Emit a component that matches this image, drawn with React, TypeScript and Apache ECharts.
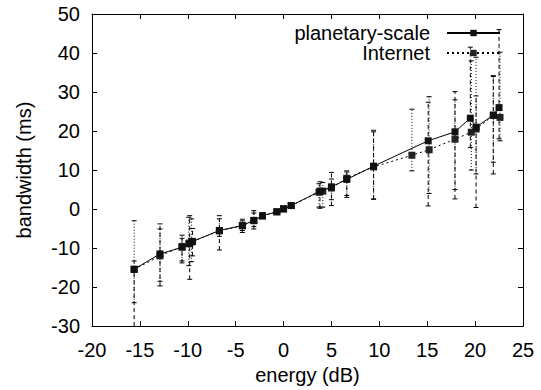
import React, { useEffect, useRef } from "react";
import * as echarts from "echarts";

const planetaryX = [-15.6, -12.9, -10.6, -9.8, -9.5, -6.7, -4.3, -3.1, -2.2, -0.7, 0.0, 0.8, 3.8, 5.0, 6.6, 9.4, 15.1, 17.9, 19.5, 20.1, 21.9, 22.5];
const planetaryY = [-15.4, -11.5, -9.8, -8.7, -8.3, -5.5, -4.2, -2.9, -1.7, -0.7, 0.1, 0.9, 4.6, 5.7, 7.6, 11.0, 17.5, 19.8, 23.3, 21.0, 24.1, 26.0];
const planetaryLow = [-35, -19.7, -13.8, -18.0, -12.0, -10.5, -6.0, -5.1, -2.4, -1.2, -0.3, 0.4, 0.2, 0.9, 3.0, 2.6, 0.8, 2.6, 15.8, 0.4, 9.0, 18.0];
const planetaryHigh = [-13.3, -3.8, -7.5, -1.7, -5.0, -1.7, -2.6, -0.4, -1.0, -0.2, 0.5, 1.4, 7.0, 9.4, 9.8, 19.8, 27.4, 30.1, 41.5, 29.0, 34.0, 46.0];

const internetX = [-15.6, -12.9, -10.6, -9.9, -9.6, -6.7, -4.3, -3.1, -2.2, -0.7, 0.0, 0.8, 3.7, 4.1, 5.0, 6.6, 9.4, 13.4, 15.2, 17.9, 19.6, 20.1, 21.9, 22.6];
const internetY = [-15.5, -12.0, -9.6, -8.9, -8.4, -5.6, -4.3, -3.0, -1.8, -0.7, 0.0, 0.9, 4.3, 4.6, 5.4, 7.9, 10.8, 13.8, 15.2, 17.9, 19.7, 20.5, 24.0, 23.5];
const internetLow = [-24, -18.5, -13.3, -14.5, -13.5, -7.0, -5.5, -4.5, -2.3, -1.1, -0.4, 0.5, 0.5, 0.5, 2.4, 3.5, 2.5, 9.8, 4.0, 5.0, 10.0, 9.0, 12.0, 17.5];
const internetHigh = [-3.0, -5.1, -6.7, -2.1, -2.5, -2.5, -3.0, -1.0, -1.2, -0.3, 0.4, 1.3, 6.5, 6.8, 7.7, 9.5, 20.2, 25.6, 28.8, 28.0, 38.0, 38.9, 34.2, 40.2];

const X_MIN = -20, X_MAX = 25, X_STEP = 5;
const Y_MIN = -30, Y_MAX = 50, Y_STEP = 10;
const FONT = "'Liberation Sans', Arial, sans-serif";

function errorRenderer(dash: number[]) {
  return (params: any, api: any) => {
    const x = api.value(0);
    const lo = api.value(1);
    const hi = api.value(2);
    const loC = Math.max(lo, Y_MIN);
    const hiC = Math.min(hi, Y_MAX);
    const p1 = api.coord([x, loC]);
    const p2 = api.coord([x, hiC]);
    const style = { stroke: "#000", lineWidth: 1, lineDash: dash, fill: null };
    const children: any[] = [
      { type: "line", shape: { x1: p1[0], y1: p1[1], x2: p2[0], y2: p2[1] }, style },
    ];
    const cap = 2.5;
    if (lo >= Y_MIN) children.push({ type: "line", shape: { x1: p1[0] - cap, y1: p1[1], x2: p1[0] + cap, y2: p1[1] }, style: { stroke: "#000", lineWidth: 1 } });
    if (hi <= Y_MAX) children.push({ type: "line", shape: { x1: p2[0] - cap, y1: p2[1], x2: p2[0] + cap, y2: p2[1] }, style: { stroke: "#000", lineWidth: 1 } });
    return { type: "group", children };
  };
}

export default function App() {
  const ref = useRef<HTMLDivElement>(null);
  useEffect(() => {
    if (!ref.current) return;
    const chart = echarts.init(ref.current, null, { renderer: "svg" });
    const axisLine = { show: true, onZero: false, lineStyle: { color: "#000", width: 1 } };
    const axisTick = { show: true, inside: true, length: 5, lineStyle: { color: "#000" } };
    chart.setOption({
      animation: false,
      backgroundColor: "#fff",
      textStyle: { fontFamily: FONT },
      grid: { left: 92, right: 18, top: 14, bottom: 63 },
      legend: {
        orient: "vertical",
        align: "right",
        right: 40,
        top: 23,
        padding: 0,
        itemWidth: 53,
        itemHeight: 8,
        itemGap: 0,
        data: ["planetary-scale", "Internet"],
        textStyle: { fontSize: 20, color: "#000", fontFamily: FONT, lineHeight: 16, padding: [0, 12, 0, 0] },
      },
      xAxis: [
        {
          type: "value", min: X_MIN, max: X_MAX, interval: X_STEP,
          name: "energy (dB)", nameLocation: "middle", nameGap: 36,
          nameTextStyle: { fontSize: 20, color: "#000", fontFamily: FONT },
          axisLine, axisTick, splitLine: { show: false },
          axisLabel: { fontSize: 20, color: "#000", margin: 14, fontFamily: FONT },
        },
        {
          type: "value", position: "top", min: X_MIN, max: X_MAX, interval: X_STEP,
          axisLine, axisTick, splitLine: { show: false }, axisLabel: { show: false },
        },
      ],
      yAxis: [
        {
          type: "value", min: Y_MIN, max: Y_MAX, interval: Y_STEP,
          name: "bandwidth (ms)", nameLocation: "middle", nameGap: 58,
          nameTextStyle: { fontSize: 20, color: "#000", fontFamily: FONT },
          axisLine, axisTick, splitLine: { show: false },
          axisLabel: { fontSize: 20, color: "#000", margin: 12, fontFamily: FONT },
        },
        {
          type: "value", position: "right", min: Y_MIN, max: Y_MAX, interval: Y_STEP,
          axisLine, axisTick, splitLine: { show: false }, axisLabel: { show: false },
        },
      ],
      series: [
        {
          name: "planetary-scale err",
          type: "custom",
          renderItem: errorRenderer([4, 3]),
          encode: { x: 0, y: [1, 2] },
          data: planetaryX.map((x, i) => [x, planetaryLow[i], planetaryHigh[i]]),
          z: 1,
        },
        {
          name: "Internet err",
          type: "custom",
          renderItem: errorRenderer([1, 2]),
          encode: { x: 0, y: [1, 2] },
          data: internetX.map((x, i) => [x, internetLow[i], internetHigh[i]]),
          z: 1,
        },
        {
          name: "planetary-scale",
          type: "line",
          data: planetaryX.map((x, i) => [x, planetaryY[i]]),
          symbol: "rect",
          symbolSize: 7,
          lineStyle: { color: "#000", width: 1, type: "solid" },
          itemStyle: { color: "#111" },
          z: 3,
        },
        {
          name: "Internet",
          type: "line",
          data: internetX.map((x, i) => [x, internetY[i]]),
          symbol: "rect",
          symbolSize: 7,
          lineStyle: { color: "#000", width: 1, type: [2, 3] },
          itemStyle: { color: "#222" },
          z: 2,
        },
      ],
    });
    return () => chart.dispose();
  }, []);
  return <div ref={ref} style={{ width: 541, height: 390, position: "fixed", left: 0, top: 0 }} />;
}
